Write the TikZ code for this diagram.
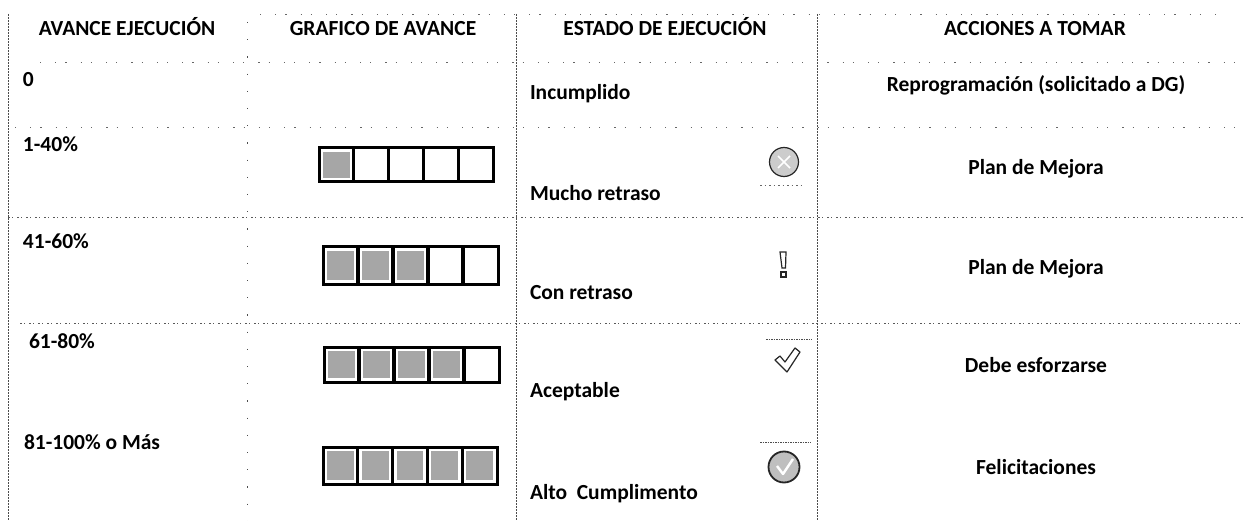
\documentclass[tikz,border=0pt]{standalone}
\usepackage{fontspec}
\setmainfont{Carlito}[BoldFont=Carlito Bold]
\usepackage{tikz}
\tikzset{
  every node/.style={inner sep=0pt,outer sep=0pt,text=black,yshift=-2pt,font=\fontsize{21.5}{24}\selectfont\bfseries},
  lbl/.style={anchor=base west},
  ctr/.style={anchor=base},
  rulefaint/.style={draw=black!60,line width=0.5pt,dash pattern=on 1.2pt off 14pt on 1.2pt off 9pt},
  rulevfaint/.style={draw=black!70,line width=0.6pt,dash pattern=on 1.2pt off 16pt},
  ruledense/.style={draw=black!70,line width=0.7pt,dash pattern=on 2pt off 1pt},
  rulemid/.style={draw=black!65,line width=0.6pt,dash pattern=on 2pt off 2pt on 1pt off 4pt},
  barbox/.style={draw=black,line width=3pt,fill=white},
  cellfill/.style={fill=black!35},
  iconline/.style={draw=black!85,line width=1.2pt}
}
\newcommand{\progbar}[6]{% x0,x1,y0,y1,filled,name
  \pgfmathsetmacro{\cw}{(#2-#1)/5}
  \coordinate (#6) at (#1,#3);
  \draw[barbox] (#1,#3) rectangle (#2,#4);
  \foreach \i in {1,...,5}{
    \pgfmathsetmacro{\xa}{#1+(\i-1)*\cw}
    \pgfmathsetmacro{\xb}{\xa+\cw}
    \ifnum\i>#5\relax\else
      \fill[cellfill] (\xa+4,#3+4) rectangle (\xb-4,#4-4);
    \fi
    \ifnum\i<5\relax \draw[black,line width=3.2pt] (\xb,#3) -- (\xb,#4);\fi
  }
}
\begin{document}
\begin{tikzpicture}[x=1pt,y=-1pt]
\useasboundingbox (0,0) rectangle (1244,521);
\fill[white] (0,0) rectangle (1244,521);
% rules
\draw[rulefaint] (260,14) -- (1225,14);
\draw[rulefaint] (40,62) -- (1240,62);
\draw[rulefaint] (15,127) -- (1240,127);
\draw[rulemid] (8,217) -- (1244,217);
\draw[rulemid] (20,323) -- (1244,323);
\draw[ruledense] (8.7,14) -- (8.7,521);
\draw[rulevfaint] (247,22) -- (247,521);
\draw[ruledense] (516,14) -- (516,521);
\draw[ruledense] (817,14) -- (817,521);
% headers
\node[ctr] (h1) at (127,33.5) {AVANCE EJECUCIÓN};
\node[ctr] (h2) at (383,33.5) {GRAFICO DE AVANCE};
\node[ctr] (h3) at (665,33.5) {ESTADO DE EJECUCIÓN};
\node[ctr] (h4) at (1035,33.5) {ACCIONES A TOMAR};
% column 1
\node[lbl] (a0) at (23,85) {0};
\node[lbl] (a1) at (23,150) {1-40\%};
\node[lbl] (a2) at (23,247) {41-60\%};
\node[lbl] (a3) at (29,346) {61-80\%};
\node[lbl] (a4) at (24,447) {81-100\% o Más};
% bars
\progbar{319}{493}{148}{182}{1}{b1}
\progbar{323}{498}{247}{284}{3}{b2}
\progbar{324}{499}{347}{382}{4}{b3}
\progbar{323}{497}{447}{484}{5}{b4}
% column 3
\node[lbl] (e0) at (530,98) {Incumplido};
\node[lbl] (e1) at (530,199) {Mucho retraso};
\node[lbl] (e2) at (530,297) {Con retraso};
\node[lbl] (e3) at (530,395) {Aceptable};
\node[lbl] (e4) at (530,497) {Alto\ \ Cumplimento};
% icons
\draw[iconline,fill=black!20] (784,162) circle (14.5);
\draw[draw=white,line width=1.6pt] (778,156) -- (790,168) (790,156) -- (778,168);
\draw[rulefaint,dash pattern=on 1.5pt off 3pt] (760,185) -- (805,185);
\draw[iconline] (780,252) -- (786,252) -- (785.5,268) -- (782,268) -- cycle;
\draw[iconline,line width=1.6pt] (781,272) rectangle (786,277);
\draw[draw=black!70,line width=0.9pt,dash pattern=on 1.5pt off 1pt] (766,339) -- (812,339);
\draw[iconline,fill=white,line join=round] (775,360) -- (780,356) -- (785,362) -- (795,348) -- (800,352) -- (787,372) -- cycle;
\draw[draw=black!70,line width=0.9pt,dash pattern=on 1.5pt off 1pt] (760,442) -- (811,442);
\draw[iconline,line width=1.8pt,fill=black!25] (784,467) circle (15.5);
\draw[draw=white,line width=2.4pt,line join=round] (777,466) -- (783,474) -- (793,459);
% actions
\node[ctr] (c0) at (1036,90) {Reprogramación (solicitado a DG)};
\node[ctr] (c1) at (1036,173) {Plan de Mejora};
\node[ctr] (c2) at (1036,273) {Plan de Mejora};
\node[ctr] (c3) at (1036,370) {Debe esforzarse};
\node[ctr] (c4) at (1036,472) {Felicitaciones};
\end{tikzpicture}
\end{document}
